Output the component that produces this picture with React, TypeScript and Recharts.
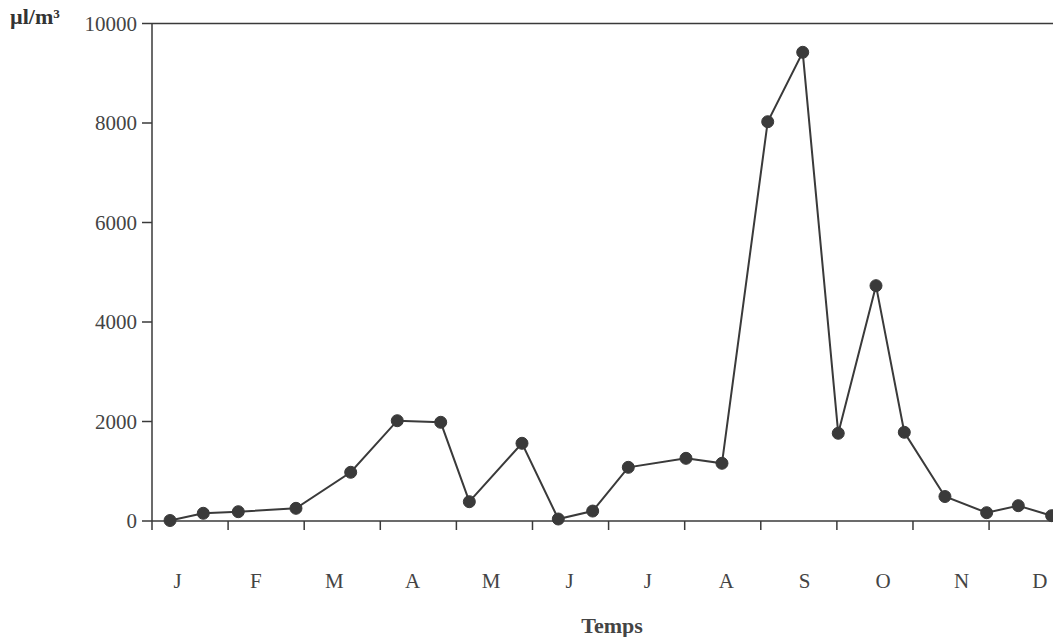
import { LineChart, Line, XAxis, YAxis, ReferenceLine } from 'recharts'

// time of each sample, in months from 1 January
const SAMPLE_MONTH = [0.237, 0.674, 1.134, 1.892, 2.611, 3.223, 3.794, 4.17, 4.862, 5.339, 5.791, 6.259, 7.017, 7.49, 8.091, 8.551, 9.018, 9.514, 9.886, 10.42, 10.968, 11.384, 11.822]
// µl/m³
const VOLUME = [10, 155, 187, 255, 979, 2016, 1984, 388, 1562, 40, 200, 1079, 1260, 1160, 8026, 9421, 1763, 4730, 1783, 492, 167, 308, 107]

const MONTHS = ['J', 'F', 'M', 'A', 'M', 'J', 'J', 'A', 'S', 'O', 'N', 'D']
const MONTH_TICKS = [0, 1, 2, 3, 4, 5, 6, 7, 8, 9, 10, 11]
const LABEL_TICKS = [0.5, 1.5, 2.5, 3.5, 4.5, 5.5, 6.5, 7.5, 8.5, 9.5, 10.5, 11.5]
const Y_TICKS = [0, 2000, 4000, 6000, 8000, 10000]

const data = SAMPLE_MONTH.map((t, i) => ({ t, v: VOLUME[i] }))

const INK = '#3a3a3a'
const SERIF = '"Liberation Serif", "DejaVu Serif", serif'

export default function App() {
  return (
    <div style={{ position: 'relative', width: 1053, height: 637, fontFamily: SERIF }}>
      <style>{'body{margin:0;overflow:hidden}'}</style>
      <LineChart width={1053} height={637} data={data} margin={{ top: 23.5, right: 0, left: 0, bottom: 0 }}>
        <XAxis xAxisId="a0" dataKey="t" type="number" domain={[0, 11.84]} allowDataOverflow ticks={MONTH_TICKS} interval={0}
          tickFormatter={() => ''} tickSize={9} height={52}
          axisLine={{ stroke: INK, strokeWidth: 1.5 }} tickLine={{ stroke: INK, strokeWidth: 1.5 }} />
        <XAxis xAxisId="a1" dataKey="t" type="number" domain={[0.175, 11.667]} allowDataOverflow ticks={LABEL_TICKS} interval={0}
          tickFormatter={(v) => MONTHS[Math.floor(v)]} axisLine={false} tickLine={false} tickSize={0} tickMargin={0} height={64}
          tick={{ fontFamily: SERIF, fontSize: 21, fill: '#444' }} />
        <YAxis type="number" domain={[0, 10000]} ticks={Y_TICKS} interval={0} width={152} tickSize={10} tickMargin={5}
          axisLine={{ stroke: INK, strokeWidth: 1.5 }} tickLine={{ stroke: INK, strokeWidth: 1.5 }}
          tick={{ fontFamily: SERIF, fontSize: 21, fill: '#444' }} />
        <ReferenceLine xAxisId="a0" y={10000} stroke={INK} strokeWidth={1.5} />
        <Line xAxisId="a0" type="linear" dataKey="v" stroke={INK} strokeWidth={2}
          dot={{ r: 6, fill: INK, stroke: INK, strokeWidth: 1 }} activeDot={false} isAnimationActive={false} />
      </LineChart>
      <div style={{ position: 'absolute', left: 10, top: 6, fontSize: 22, lineHeight: '22px', fontWeight: 'bold', color: '#333', whiteSpace: 'nowrap' }}>µl/m³</div>
      <div style={{ position: 'absolute', left: 612, top: 615, transform: 'translateX(-50%)', fontSize: 22, lineHeight: '22px', fontWeight: 'bold', color: '#444', whiteSpace: 'nowrap' }}>Temps</div>
    </div>
  )
}
